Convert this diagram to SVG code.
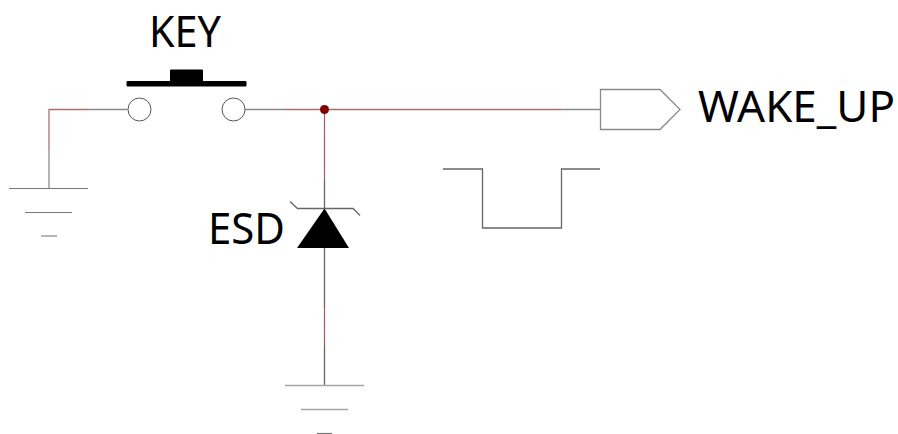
<svg xmlns="http://www.w3.org/2000/svg" width="898" height="434" viewBox="0 0 898 434">
<style>
text{font-family:"Noto Sans","Open Sans","Liberation Sans",sans-serif;font-size:43px;fill:#000}
.g{fill:none;stroke:#666;stroke-width:1.3}
.w{fill:none;stroke:#ad7070;stroke-width:1.3}
.r{fill:none;stroke:#a85a5a;stroke-width:1.2}
.s{fill:none;stroke:#8a8a8a;stroke-width:1.3}
.gl{fill:none;stroke:#777;stroke-width:1.2}
.t{fill:none;stroke:#a5a5a5;stroke-width:1.6}
</style>
<rect width="898" height="434" fill="#fff"/>
<g id="connectors">
<path class="s" d="M127.500 109.500H88"/>
<path class="w" d="M88 109.500H49V150"/>
<path class="s" d="M49 150V188"/>
<path class="s" d="M245 109.500H285"/>
<path class="w" d="M285 109.500H562"/>
<path class="s" d="M562 109.500H600.500"/>
<path class="r" d="M324.500 109.500V180"/>
<path class="g" d="M324.500 180V209"/>
<path class="g" d="M324.500 248V308"/>
<path class="r" d="M324.500 308V346"/>
<path class="g" d="M324.500 346V385"/>
</g>
<g id="gnd1">
<path class="gl" d="M9 188.500H88"/>
<path class="gl" d="M25 212.500H72"/>
<path class="t" d="M41 236H57"/>
</g>
<g id="key">
<text x="185" y="47" text-anchor="middle" textLength="72" lengthAdjust="spacingAndGlyphs">KEY</text>
<rect x="170" y="69.500" width="33" height="13" rx="1" fill="#000"/>
<rect x="126.500" y="81" width="120" height="5.500" rx="1" fill="#000"/>
<circle cx="139.500" cy="109.500" r="11.500" fill="#fff" stroke="#555" stroke-width="1"/>
<circle cx="233.500" cy="109.500" r="11.500" fill="#fff" stroke="#555" stroke-width="1"/>
</g>
<g id="junction">
<circle cx="324.500" cy="109.500" r="4.500" fill="#800000"/>
</g>
<g id="esd">
<text x="208" y="244" textLength="77" lengthAdjust="spacingAndGlyphs">ESD</text>
<path class="g" d="M290 201.500L297.500 208.500H353L360 215.500"/>
<path d="M324.500 208.500L349 248H297Z" fill="#000"/>
</g>
<g id="gnd2">
<path class="t" d="M285 385.500H364"/>
<path class="t" d="M301 409.500H348"/>
<path class="gl" d="M317 433.500H332"/>
</g>
<g id="wake_up">
<path class="s" d="M600.500 89.500H660L680 109.500L660 129.500H600.500Z" fill="#fff"/>
<text x="698" y="122" textLength="197" lengthAdjust="spacingAndGlyphs">WAKE_UP</text>
</g>
<g id="pulse">
<path class="g" d="M443 169H482.500V228H561.500V169H600"/>
</g>
</svg>
